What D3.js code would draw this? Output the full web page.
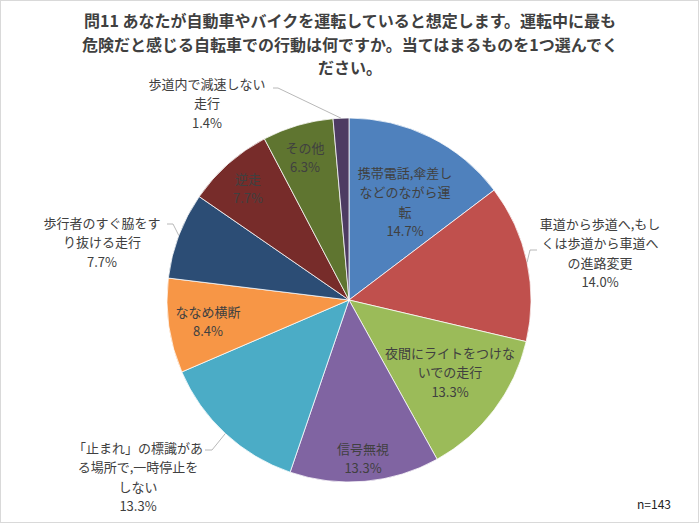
<!DOCTYPE html>
<html>
<head>
<meta charset="utf-8">
<script src="https://cdn.jsdelivr.net/npm/d3@7"></script>
<style>
  body { margin: 0; background: #fff; }
  svg text { font-family: "Noto Sans CJK JP", "Noto Sans", sans-serif; }
</style>
</head>
<body>
<div id="chart"></div>
<script>
// data
var categories = ["携帯電話,傘差しなどのながら運転", "車道から歩道へ,もしくは歩道から車道への進路変更",
  "夜間にライトをつけないでの走行", "信号無視", "「止まれ」の標識がある場所で,一時停止をしない",
  "ななめ横断", "歩行者のすぐ脇をすり抜ける走行", "逆走", "その他", "歩道内で減速しない走行"];
var counts = [21, 20, 19, 19, 19, 12, 11, 11, 9, 2];
var total = 143;
var labelLines = [
  ["携帯電話,傘差し", "などのながら運", "転"],
  ["車道から歩道へ,もし", "くは歩道から車道へ", "の進路変更"],
  ["夜間にライトをつけな", "いでの走行"],
  ["信号無視"],
  ["「止まれ」の標識があ", "る場所で,一時停止を", "しない"],
  ["ななめ横断"],
  ["歩行者のすぐ脇をす", "り抜ける走行"],
  ["逆走"],
  ["その他"],
  ["歩道内で減速しない", "走行"]
];
var titleLines = ["問11 あなたが自動車やバイクを運転していると想定します。運転中に最も",
  "危険だと感じる自転車での行動は何ですか。当てはまるものを1つ選んでく", "ださい。"];

var colors = ["#4F81BD", "#C0504D", "#9BBB59", "#8064A2", "#4BACC6",
  "#F79646", "#2C4D75", "#772C2A", "#5F7530", "#4D3B62"];

// label placement (first line centre), leader ticks for outside labels
var labelPos = [[405, 172], [600, 223], [450, 352], [363, 448], [138, 447],
  [208, 311], [102, 222], [248, 178], [305, 147], [207, 83]];
var leaders = { 1: [537, 530, 250], 4: [205, 212, 450], 6: [167, 173, 224], 9: [273, 278, 88] };

var width = 700, height = 525;
var cx = 349, cy = 300, radius = 182;

var svg = d3.select("#chart").append("svg")
    .attr("width", width)
    .attr("height", height);

svg.append("rect")
    .attr("x", 0.5).attr("y", 0.5)
    .attr("width", width - 2).attr("height", height - 3)
    .attr("fill", "#fff")
    .attr("stroke", "#d9d9d9");

// title
svg.append("g").selectAll("text")
    .data(titleLines)
    .enter()
    .append("text")
    .attr("x", 350)
    .attr("y", (d, i) => 20 + i * 23.5)
    .attr("text-anchor", "middle")
    .attr("dominant-baseline", "central")
    .attr("font-size", "16px")
    .attr("font-weight", "bold")
    .attr("fill", "#404040")
    .text(d => d);

var pie = d3.pie().sort(null).value(d => d);
var arcs = pie(counts);

var arc = d3.arc().innerRadius(0).outerRadius(radius);
var edge = d3.arc().innerRadius(radius).outerRadius(radius);

var pieGroup = svg.append("g")
    .attr("transform", `translate(${cx}, ${cy})`);

pieGroup.selectAll("path")
    .data(arcs)
    .enter()
    .append("path")
    .attr("d", arc)
    .attr("fill", (d, i) => colors[i])
    .attr("stroke", "#fff")
    .attr("stroke-width", 0.75);

// leader lines
arcs.forEach(function(d, i) {
    if (!leaders[i]) return;
    var p = edge.centroid(d);
    var l = leaders[i];
    svg.append("path")
        .attr("d", `M${l[0]},${l[2]} L${l[1]},${l[2]} L${cx + p[0]},${cy + p[1]}`)
        .attr("fill", "none")
        .attr("stroke", "#a6a6a6")
        .attr("stroke-width", 0.8);
});

// data labels
var labels = svg.append("g");
arcs.forEach(function(d, i) {
    var lines = labelLines[i].concat([(counts[i] / total * 100).toFixed(1) + "%"]);
    labels.append("g").selectAll("text")
        .data(lines)
        .enter()
        .append("text")
        .attr("x", labelPos[i][0])
        .attr("y", (t, j) => labelPos[i][1] + j * 19.5)
        .attr("text-anchor", "middle")
        .attr("dominant-baseline", "central")
        .attr("font-size", "13px")
        .attr("fill", "#404040")
        .text(t => t);
});

svg.append("text")
    .attr("x", 671)
    .attr("y", 503)
    .attr("text-anchor", "end")
    .attr("dominant-baseline", "central")
    .attr("font-size", "12px")
    .attr("fill", "#222")
    .text("n=" + total);
</script>
</body>
</html>
